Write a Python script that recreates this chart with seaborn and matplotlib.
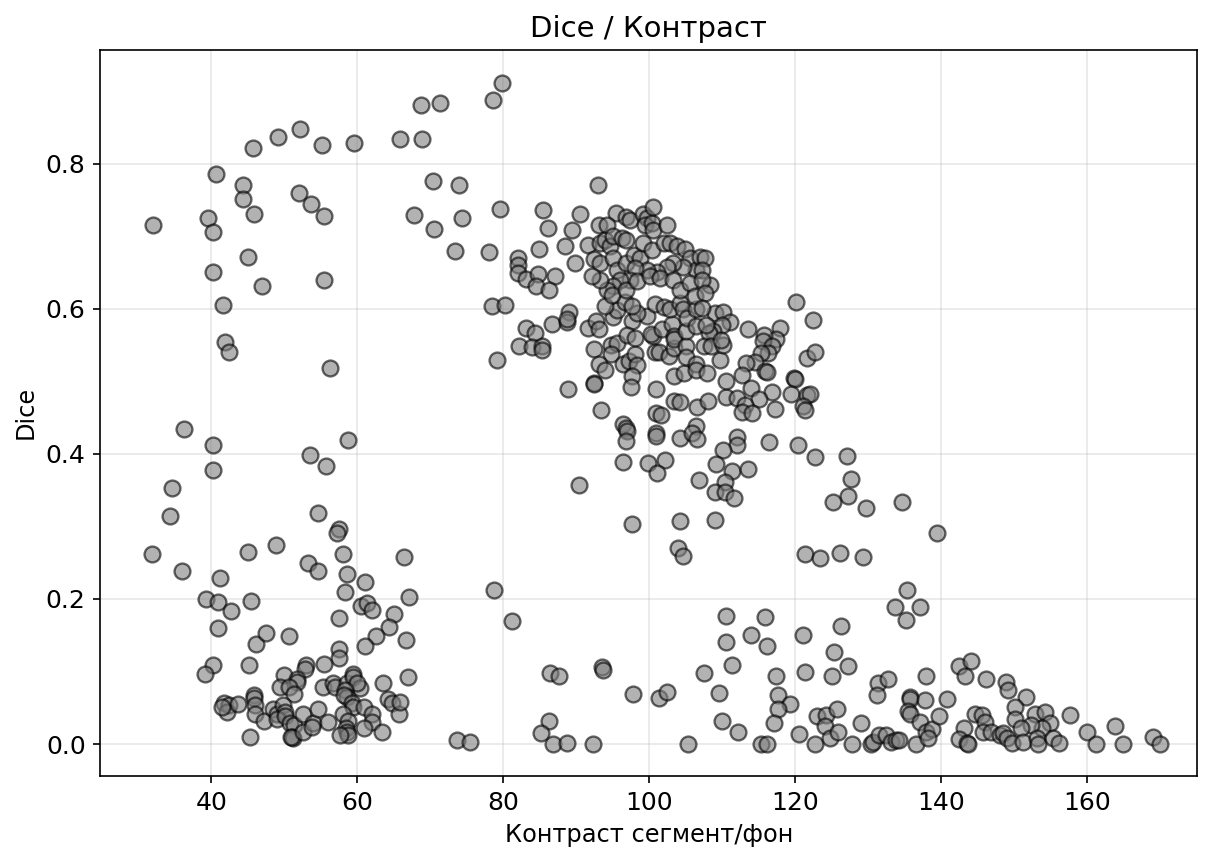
import matplotlib
matplotlib.use("Agg")
import matplotlib.pyplot as plt
import seaborn as sns
import pandas as pd

# Upper-left group (high Dice, low contrast)
ul_x = [32.0, 45.7, 49.2, 52.2, 55.2, 59.6, 65.9, 40.6, 44.4, 44.3, 52.1, 53.7, 55.4, 45.9, 39.5, 40.2,
        45.0, 40.2, 47.0, 55.4, 41.6, 41.9, 42.4, 56.3, 68.7, 71.3, 79.9, 78.6, 68.9, 70.4, 74.0, 67.8,
        70.5, 74.3, 79.6, 73.4, 78.0, 78.5, 80.2, 79.1]
ul_y = [0.716, 0.822, 0.837, 0.848, 0.826, 0.828, 0.834, 0.786, 0.771, 0.751, 0.759, 0.745, 0.728, 0.730, 0.725, 0.706,
        0.671, 0.650, 0.632, 0.640, 0.605, 0.554, 0.540, 0.519, 0.881, 0.883, 0.911, 0.888, 0.834, 0.776, 0.771, 0.729,
        0.710, 0.725, 0.738, 0.680, 0.678, 0.604, 0.605, 0.530]

# Main cluster, left / middle part
cl_x = [93.0, 85.5, 86.1, 90.6, 89.5, 84.9, 88.5, 91.7, 82.1, 82.1, 82.1, 83.2, 84.8, 87.1, 84.5, 86.3, 89.8,
        83.2, 84.4, 82.2, 84.0, 85.3, 85.3, 86.7, 89.0, 88.7, 88.7, 91.6, 92.7, 93.2, 92.5, 94.8, 95.6, 94.8,
        88.9, 92.4, 92.4, 93.2, 93.9, 93.4, 96.4, 97.3, 98.1, 98.4, 97.7, 97.5, 96.4, 96.8, 97.0, 96.8,
        100.9, 100.9, 101.6, 100.9, 100.9, 104.2, 96.4, 99.8, 102.2, 101.1, 90.4, 97.7, 104.2, 104.0, 104.6,
        103.4, 104.2, 103.4, 104.8, 100.5, 100.3, 100.8, 101.3, 101.8, 103.1, 102.8, 103.4, 103.4, 103.4,
        105.1, 105.1, 105.1, 106.4, 106.4, 106.6, 106.4, 105.9, 106.8, 106.6, 97.6, 97.0, 98.1, 99.7, 98.4,
        95.0, 95.6, 94.0, 96.7, 97.6, 100.8, 102.0, 102.9, 104.2, 104.7, 105.2, 106.5, 106.5]
cl_y = [0.770, 0.736, 0.712, 0.730, 0.709, 0.682, 0.687, 0.688, 0.670, 0.661, 0.649, 0.641, 0.648, 0.645, 0.631, 0.626, 0.663,
        0.573, 0.566, 0.548, 0.547, 0.548, 0.543, 0.579, 0.596, 0.582, 0.586, 0.573, 0.583, 0.572, 0.544, 0.550, 0.553, 0.538,
        0.490, 0.498, 0.496, 0.524, 0.516, 0.460, 0.524, 0.528, 0.538, 0.522, 0.508, 0.492, 0.441, 0.436, 0.431, 0.418,
        0.490, 0.457, 0.454, 0.429, 0.424, 0.422, 0.389, 0.388, 0.392, 0.373, 0.357, 0.303, 0.308, 0.270, 0.259,
        0.473, 0.472, 0.508, 0.512, 0.563, 0.565, 0.541, 0.541, 0.572, 0.579, 0.535, 0.546, 0.563, 0.558,
        0.548, 0.569, 0.534, 0.524, 0.516, 0.465, 0.438, 0.429, 0.364, 0.420, 0.583, 0.564, 0.560, 0.590, 0.594,
        0.589, 0.598, 0.604, 0.609, 0.604, 0.606, 0.602, 0.599, 0.608, 0.599, 0.587, 0.599, 0.576]

# Main cluster, top part
ct_x = [95.5, 96.9, 97.4, 99.2, 99.7, 99.5, 100.4, 100.6, 100.5, 102.4, 93.1, 94.2, 93.3, 94.0, 94.7, 95.1,
        96.3, 96.9, 92.4, 93.3, 95.1, 95.6, 96.9, 97.9, 98.8, 99.2, 100.4, 102.0, 102.9, 103.8, 104.9, 105.6,
        106.5, 104.7, 103.3, 102.4, 101.1, 99.7, 98.1, 97.4, 96.0, 95.1, 94.2, 93.3, 92.2, 94.9, 96.9, 98.3,
        100.1, 101.5, 103.3, 104.2, 105.6, 106.3, 107.0, 107.7, 108.4, 107.2, 107.2, 107.7]
ct_y = [0.732, 0.727, 0.723, 0.730, 0.725, 0.716, 0.718, 0.709, 0.740, 0.716, 0.716, 0.716, 0.690, 0.695, 0.686, 0.700,
        0.698, 0.695, 0.668, 0.663, 0.670, 0.654, 0.663, 0.674, 0.670, 0.690, 0.681, 0.690, 0.690, 0.686, 0.683, 0.670,
        0.654, 0.658, 0.663, 0.658, 0.651, 0.654, 0.656, 0.640, 0.640, 0.631, 0.626, 0.640, 0.645, 0.619, 0.626, 0.638,
        0.645, 0.642, 0.640, 0.626, 0.635, 0.617, 0.672, 0.670, 0.633, 0.654, 0.640, 0.622]

# Main cluster, right part and tail
cr_x = [120.1, 122.4, 121.7, 122.7, 119.9, 120.0, 119.4, 121.6, 122.0, 121.1, 121.4, 120.4, 122.7, 127.1, 127.7,
        127.3, 125.2, 129.7, 134.7, 139.4, 109.0, 116.4, 112.1, 112.1, 110.2, 109.2, 111.3, 113.5, 110.4, 109.0,
        110.4, 111.7, 113.5, 117.9, 117.4, 115.8, 115.6, 116.8, 116.3, 115.3, 114.5, 113.3, 115.9, 116.1, 112.8,
        113.9, 116.9, 115.0, 110.6, 112.1, 113.2, 112.7, 114.1, 117.3, 110.5, 109.7, 108.1, 107.9, 109.0, 110.2,
        111.1, 110.0, 108.7, 108.2, 107.8, 107.5, 108.5, 110.1, 109.9, 107.2]
cr_y = [0.609, 0.585, 0.532, 0.540, 0.505, 0.503, 0.483, 0.481, 0.482, 0.466, 0.461, 0.412, 0.396, 0.397, 0.365,
        0.342, 0.334, 0.326, 0.333, 0.291, 0.309, 0.416, 0.423, 0.412, 0.405, 0.386, 0.377, 0.379, 0.361, 0.347,
        0.347, 0.339, 0.572, 0.574, 0.558, 0.564, 0.555, 0.548, 0.539, 0.539, 0.526, 0.525, 0.514, 0.513, 0.509,
        0.491, 0.485, 0.475, 0.478, 0.477, 0.468, 0.458, 0.456, 0.462, 0.500, 0.530, 0.473, 0.511, 0.594, 0.596,
        0.582, 0.578, 0.569, 0.567, 0.578, 0.548, 0.548, 0.550, 0.557, 0.601]

# Lower-left group (low Dice, low contrast)
ll_x = [31.9, 36.0, 41.2, 39.3, 41.0, 42.7, 40.9, 45.5, 45.1, 48.9, 53.2, 54.7, 58.0, 58.6, 58.3, 61.1, 60.5,
        61.3, 62.1, 65.0, 64.3, 66.4, 57.5, 50.7, 46.1, 47.5, 62.6, 61.1, 57.5, 57.5, 55.5, 40.2, 39.2, 45.2,
        53.0, 52.8, 50.0, 51.7, 51.7, 49.4, 50.6, 51.3, 55.3, 56.7, 57.0, 58.6, 59.5, 59.4, 60.4, 60.0, 63.6,
        58.4, 58.6, 58.2, 59.3, 59.5, 60.9, 62.0, 62.1, 60.9, 63.4, 64.2, 64.8, 65.7, 58.1, 58.8, 58.5, 58.6,
        58.8, 57.6, 41.7, 42.4, 42.2, 43.7, 41.5, 45.8, 45.9, 46.0, 46.0, 47.3, 45.3, 48.5, 49.0, 49.8, 50.1,
        49.0, 50.1, 50.8, 51.3, 51.1, 51.2, 50.9, 52.6, 52.6, 53.9, 53.8, 54.7, 56.0,
        34.6, 34.3, 36.3, 40.3, 40.3, 58.7, 53.5, 55.8, 54.6, 57.5, 57.3]
ll_y = [0.262, 0.238, 0.229, 0.200, 0.196, 0.183, 0.160, 0.197, 0.265, 0.275, 0.249, 0.239, 0.262, 0.234, 0.209, 0.224, 0.190,
        0.194, 0.185, 0.179, 0.162, 0.258, 0.174, 0.149, 0.138, 0.153, 0.149, 0.135, 0.131, 0.118, 0.111, 0.109, 0.097, 0.109,
        0.109, 0.103, 0.095, 0.090, 0.086, 0.079, 0.079, 0.069, 0.078, 0.084, 0.079, 0.084, 0.097, 0.093, 0.077, 0.084, 0.084,
        0.075, 0.065, 0.067, 0.056, 0.051, 0.051, 0.042, 0.031, 0.022, 0.016, 0.062, 0.056, 0.042, 0.042, 0.032, 0.022, 0.017,
        0.012, 0.012, 0.056, 0.054, 0.044, 0.055, 0.051, 0.067, 0.063, 0.054, 0.042, 0.032, 0.010, 0.049, 0.042, 0.054, 0.044,
        0.035, 0.038, 0.029, 0.026, 0.010, 0.008, 0.010, 0.042, 0.016, 0.029, 0.023, 0.049, 0.031,
        0.353, 0.314, 0.434, 0.412, 0.378, 0.419, 0.399, 0.383, 0.318, 0.296, 0.291]

# Low Dice, middle contrast
lm_x = [67.1, 66.7, 66.9, 65.9, 78.8, 81.2, 73.7, 75.4, 86.4, 87.6, 93.6, 93.7, 97.8, 101.3, 102.5, 86.3,
        85.2, 86.9, 88.8, 92.3, 105.4]
lm_y = [0.203, 0.143, 0.092, 0.058, 0.213, 0.170, 0.005, 0.003, 0.098, 0.094, 0.106, 0.102, 0.069, 0.064, 0.072, 0.032,
        0.015, 0.000, 0.002, 0.000, 0.000]

# Lower-right group (low Dice, high contrast)
lr_x = [121.4, 123.4, 126.1, 129.3, 135.4, 133.7, 137.1, 135.2, 110.6, 115.9, 114.0, 110.6, 116.1, 121.1, 126.3,
        125.3, 111.3, 107.5, 117.4, 121.3, 125.0, 127.3, 109.6, 117.7, 119.3, 117.6, 117.1, 110.0, 112.2, 115.4,
        116.1, 120.6, 122.7, 123.0, 124.3, 125.7, 124.1, 124.8, 125.9, 127.8, 129.0, 131.4, 132.7, 131.3, 130.4,
        130.7, 131.5, 132.4, 133.1, 133.9, 134.2, 136.6, 135.8, 135.8, 135.5, 135.8, 137.8, 138.0, 140.8, 137.1,
        137.9, 138.8, 138.2, 139.7, 142.5, 144.1, 143.3, 146.2, 144.7, 145.6, 146.0, 143.2, 142.5, 143.5, 143.7,
        145.7, 146.9, 148.1, 148.9, 149.2, 151.6, 150.2, 150.2, 152.9, 154.2, 155.0, 153.8, 152.3, 150.9, 157.7,
        160.0, 161.3, 163.8, 165.0, 169.1, 170.0, 148.5, 149.0, 149.7, 151.2, 153.1, 153.3, 155.4, 156.2]
lr_y = [0.262, 0.256, 0.263, 0.258, 0.212, 0.189, 0.189, 0.171, 0.176, 0.175, 0.151, 0.140, 0.135, 0.151, 0.163,
        0.127, 0.109, 0.098, 0.094, 0.100, 0.094, 0.107, 0.070, 0.067, 0.055, 0.048, 0.029, 0.032, 0.017, 0.000,
        0.000, 0.014, 0.000, 0.039, 0.040, 0.049, 0.025, 0.008, 0.016, 0.000, 0.029, 0.084, 0.090, 0.067, 0.000,
        0.003, 0.012, 0.012, 0.003, 0.005, 0.005, 0.000, 0.065, 0.062, 0.045, 0.042, 0.061, 0.094, 0.062, 0.030,
        0.016, 0.021, 0.008, 0.038, 0.108, 0.115, 0.094, 0.089, 0.042, 0.040, 0.031, 0.022, 0.007, 0.002, 0.000,
        0.017, 0.017, 0.012, 0.086, 0.074, 0.065, 0.051, 0.035, 0.041, 0.044, 0.029, 0.022, 0.026, 0.022, 0.040,
        0.016, 0.000, 0.025, 0.000, 0.010, 0.000, 0.015, 0.008, 0.002, 0.003, 0.008, 0.000, 0.008, 0.002]

title = "Dice / Контраст"
x_label = "Контраст сегмент/фон"
y_label = "Dice"

contrast = ul_x + cl_x + ct_x + cr_x + ll_x + lm_x + lr_x
dice = ul_y + cl_y + ct_y + cr_y + ll_y + lm_y + lr_y
df = pd.DataFrame({"contrast": contrast, "dice": dice})

plt.rcParams["font.family"] = ["DejaVu Sans"]
fig, ax = plt.subplots(figsize=(1208 / 150, 858 / 150), dpi=150)
fig.subplots_adjust(left=0.083, right=0.991, top=0.942, bottom=0.0956)

sns.scatterplot(data=df, x="contrast", y="dice", ax=ax, s=58, color="gray",
                edgecolor="black", linewidth=1.1, alpha=0.6, zorder=3)

ax.set_xlim(24.8, 175.1)
ax.set_ylim(-0.044, 0.957)
ax.set_xticks([40, 60, 80, 100, 120, 140, 160])
ax.set_yticks([0.0, 0.2, 0.4, 0.6, 0.8])
ax.grid(True, alpha=0.3, zorder=0)
ax.set_axisbelow(True)
ax.set_title(title, fontsize=14)
ax.set_xlabel(x_label, fontsize=11.5)
ax.set_ylabel(y_label, fontsize=11.5)
ax.tick_params(labelsize=12)

fig.savefig("out.png", dpi=150)
